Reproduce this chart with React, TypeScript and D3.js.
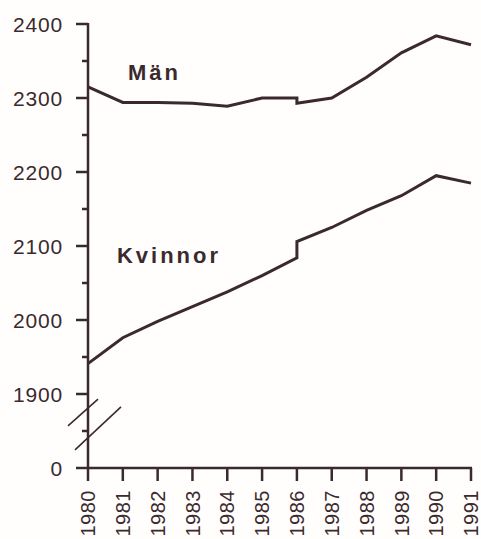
import React from "react";
import * as d3 from "d3";

const years = [1980, 1981, 1982, 1983, 1984, 1985, 1986, 1986, 1987, 1988, 1989, 1990, 1991];
const men = [2315, 2294, 2294, 2293, 2289, 2300, 2300, 2293, 2300, 2328, 2361, 2384, 2372];
const women = [1941, 1976, 1998, 2018, 2038, 2060, 2084, 2106, 2125, 2148, 2168, 2195, 2185];
const xTicks = [1980, 1981, 1982, 1983, 1984, 1985, 1986, 1987, 1988, 1989, 1990, 1991];
const yMajor = [1800, 1900, 2000, 2100, 2200, 2300, 2400];
const yMinor = [1850, 1950, 2050, 2150, 2250, 2350];
const yLabel = (v: number) => (v === 1800 ? "0" : String(v));
const seriesLabels = [
  { text: "Män", year: 1981.15, value: 2325 },
  { text: "Kvinnor", year: 1980.83, value: 2077 },
];

const W = 481;
const H = 539;
const INK = "#3b2a2d";

export default function App() {
  const x = d3.scaleLinear().domain([1980, 1991]).range([88, 471]);
  const y = d3.scaleLinear().domain([1800, 2400]).range([468, 24]);
  const line = d3
    .line<number>()
    .x((_, i) => x(years[i]))
    .y((d) => y(d));

  const ax = x(1980);
  const ay = y(1800);
  const font = "'Liberation Sans', Arial, Helvetica, sans-serif";

  return (
    <svg
      width={W}
      height={H}
      style={{ position: "absolute", left: 0, top: 0, background: "#fffefd" }}
      fontFamily={font}
    >
      {/* y axis */}
      <line x1={ax} x2={ax} y1={y(2400) - 1} y2={ay} stroke={INK} strokeWidth={2.5} />
      {yMajor.map((v) => (
        <g key={v}>
          <line x1={ax - 12} x2={ax} y1={y(v)} y2={y(v)} stroke={INK} strokeWidth={2.5} />
          <text
            x={ax - 25}
            y={y(v)}
            dy="0.36em"
            textAnchor="end"
            fontSize={21}
            letterSpacing={0.8}
            fill={INK}
          >
            {yLabel(v)}
          </text>
        </g>
      ))}
      {yMinor.map((v) => (
        <line key={v} x1={ax - 6} x2={ax} y1={y(v)} y2={y(v)} stroke={INK} strokeWidth={2.5} />
      ))}
      {/* axis break marks */}
      <line x1={ax - 20} y1={y(1857)} x2={ax + 10} y2={y(1893)} stroke={INK} strokeWidth={1.6} />
      <line x1={ax - 13} y1={y(1824.5)} x2={ax + 33} y2={y(1882.5)} stroke={INK} strokeWidth={1.6} />

      {/* x axis */}
      <line x1={ax - 1} x2={x(1991) + 1} y1={ay} y2={ay} stroke={INK} strokeWidth={2.5} />
      {xTicks.map((t) => (
        <g key={t}>
          <line x1={x(t)} x2={x(t)} y1={ay} y2={ay + 13} stroke={INK} strokeWidth={2.5} />
          <text
            transform={`translate(${x(t)},${ay + 22}) rotate(-90)`}
            dy="0.36em"
            textAnchor="end"
            fontSize={20}
            letterSpacing={0.5}
            fill={INK}
          >
            {t}
          </text>
        </g>
      ))}

      {/* series */}
      <path d={line(men) || ""} fill="none" stroke={INK} strokeWidth={3} strokeLinejoin="miter" />
      <path d={line(women) || ""} fill="none" stroke={INK} strokeWidth={3} strokeLinejoin="miter" />

      {seriesLabels.map((l) => (
        <text
          key={l.text}
          x={x(l.year)}
          y={y(l.value)}
          fontSize={22}
          fontWeight="bold"
          letterSpacing={3}
          fill={INK}
        >
          {l.text}
        </text>
      ))}
    </svg>
  );
}
